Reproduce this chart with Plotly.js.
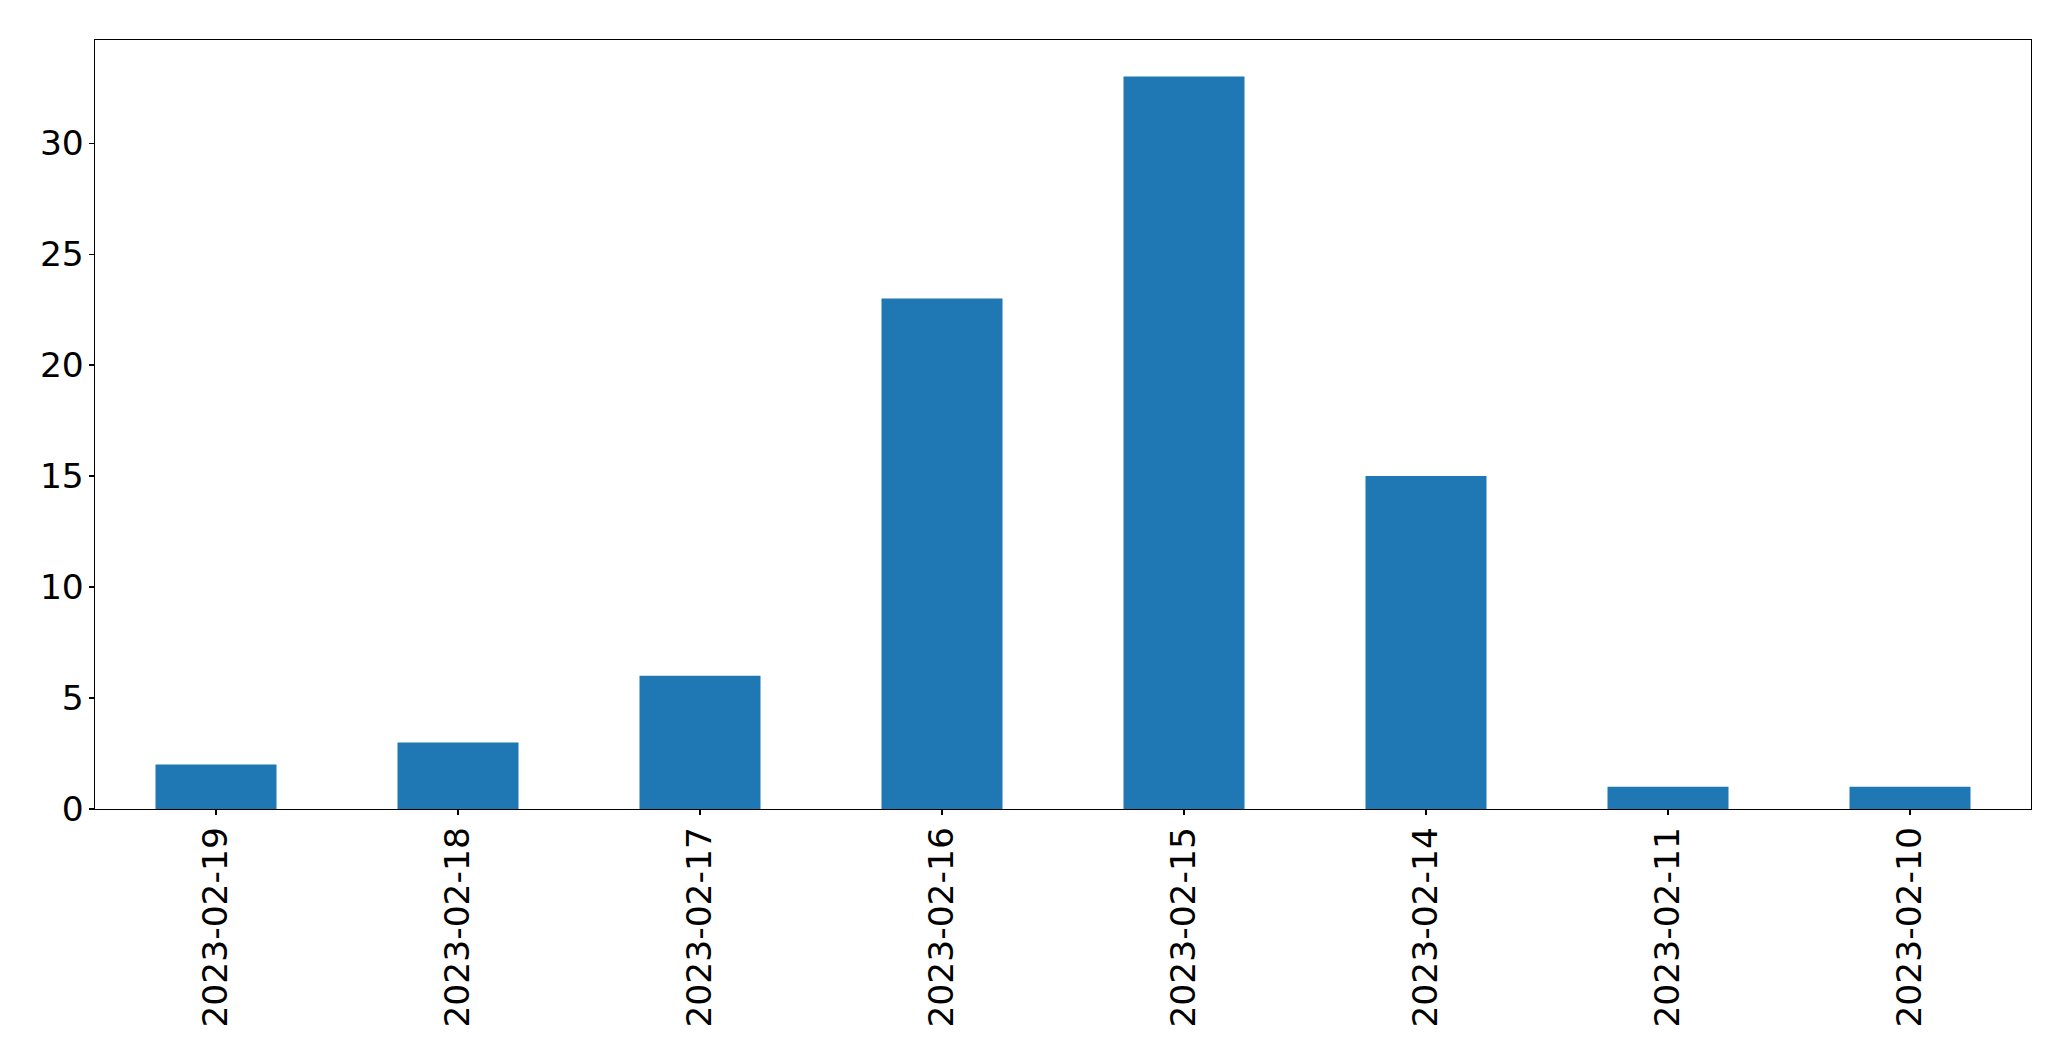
<!DOCTYPE html>
<html>
<head>
<meta charset="utf-8">
<script src="https://cdn.plot.ly/plotly-3.0.1.min.js"></script>
<style>html,body{margin:0;padding:0;background:#fff;}#chart{width:2071px;height:1061px;}</style>
</head>
<body>
<div id="chart"></div>
<script>
const categories = ["2023-02-19","2023-02-18","2023-02-17","2023-02-16","2023-02-15","2023-02-14","2023-02-11","2023-02-10"];
const counts = [2, 3, 6, 23, 33, 15, 1, 1];
const yTicks = [0, 5, 10, 15, 20, 25, 30];

const trace = {
  type: 'bar',
  x: categories,
  y: counts,
  width: 0.5,
  marker: {color: '#1f77b4', line: {width: 0}},
  hoverinfo: 'x+y'
};

const font = {family: 'DejaVu Sans, sans-serif', size: 34.5, color: '#000'};

const layout = {
  width: 2071,
  height: 1061,
  margin: {l: 94.5, r: 39.5, t: 39.5, b: 252},
  paper_bgcolor: '#fff',
  plot_bgcolor: '#fff',
  showlegend: false,
  bargap: 0.5,
  font: font,
  xaxis: {
    type: 'category',
    range: [-0.5, categories.length - 0.5],
    tickangle: -90,
    ticks: 'outside',
    ticklen: 5,
    tickwidth: 1.3,
    tickcolor: '#000',
    showline: true,
    linecolor: '#000',
    linewidth: 1.3,
    mirror: true,
    showgrid: false,
    zeroline: false,
    ticklabelstandoff: -2,
    tickfont: font
  },
  yaxis: {
    range: [0, Math.max(...counts) * 1.05],
    tickmode: 'array',
    tickvals: yTicks,
    ticktext: yTicks.map(String),
    ticks: 'outside',
    ticklen: 5,
    tickwidth: 1.3,
    tickcolor: '#000',
    showline: true,
    linecolor: '#000',
    linewidth: 1.3,
    mirror: true,
    showgrid: false,
    zeroline: false,
    ticklabelstandoff: -2,
    tickfont: font
  }
};

Plotly.newPlot('chart', [trace], layout, {displayModeBar: false, staticPlot: true});
</script>
</body>
</html>
